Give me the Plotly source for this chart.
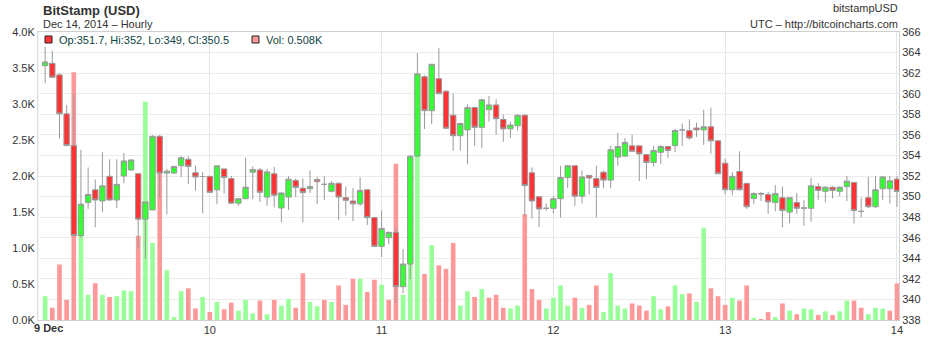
import pandas as pd
import plotly.graph_objects as go

# Hourly BitStamp (USD) candles, 9 Dec 2014 01:00 UTC through 14 Dec 2014 00:00 UTC
open_ = [
    362.73, 362.95, 361.83, 358.04, 354.96, 346.21, 349.42, 350.66, 349.57, 351.97,
    349.67, 352.00, 352.59, 352.22, 347.80, 348.70, 355.86, 352.28, 352.28, 353.00,
    353.62, 352.31, 351.95, 351.97, 350.66, 352.69, 351.75, 349.36, 349.79, 352.37,
    352.59, 349.95, 352.22, 348.89, 349.95, 351.57, 350.82, 350.76, 351.66, 351.19,
    350.51, 351.29, 349.89, 349.57, 349.29, 350.66, 347.96, 345.16, 346.00, 346.52,
    341.24, 343.44, 353.93, 361.65, 358.35, 361.46, 360.25, 357.91, 355.92, 356.48,
    358.66, 356.73, 358.44, 358.91, 357.51, 356.58, 356.89, 357.91, 352.31, 349.98,
    348.86, 348.86, 349.79, 351.85, 353.00, 350.04, 352.06, 351.75, 352.37, 351.60,
    353.84, 353.93, 354.93, 354.93, 354.09, 353.31, 354.30, 354.86, 354.96, 356.48,
    356.42, 356.67, 356.48, 356.79, 355.42, 353.25, 350.66, 352.44, 351.29, 349.82,
    350.29, 350.20, 349.42, 349.89, 348.49, 349.42, 348.86, 348.86, 350.97, 350.51,
    350.91, 350.51, 350.97, 351.38, 348.58, 349.89, 349.01, 350.76, 350.76, 351.70,
]
high = [
    364.57, 364.20, 362.00, 358.90, 360.00, 354.55, 352.84, 351.66, 354.33, 353.62,
    353.62, 354.24, 353.60, 352.30, 349.50, 355.95, 356.00, 352.70, 352.95, 353.93,
    353.93, 353.00, 352.37, 352.00, 353.00, 352.70, 352.00, 349.80, 353.77, 352.93,
    352.78, 352.69, 352.90, 350.40, 352.00, 351.75, 351.75, 352.53, 351.91, 351.97,
    351.50, 351.40, 350.97, 350.82, 351.88, 350.70, 347.96, 348.64, 346.60, 346.93,
    344.90, 354.00, 363.95, 361.80, 362.90, 364.42, 360.30, 360.00, 357.20, 358.97,
    358.70, 359.50, 359.78, 359.47, 357.98, 357.29, 358.00, 358.00, 352.84, 350.00,
    349.33, 350.04, 353.00, 353.00, 353.00, 352.53, 352.10, 353.00, 352.53, 354.93,
    356.17, 355.70, 356.01, 354.93, 354.10, 354.93, 355.00, 354.93, 356.58, 357.10,
    357.51, 357.20, 358.44, 358.66, 355.50, 353.68, 352.37, 354.40, 351.30, 350.41,
    350.45, 350.45, 351.13, 350.97, 349.90, 350.35, 349.64, 351.81, 351.29, 351.00,
    351.00, 351.00, 352.00, 351.40, 349.89, 351.91, 352.00, 352.00, 352.00, 352.00,
]
low = [
    361.00, 361.50, 355.64, 354.90, 346.10, 346.00, 348.80, 347.02, 348.49, 349.60,
    348.89, 351.29, 352.50, 344.90, 343.97, 348.70, 349.89, 348.27, 352.20, 351.90,
    351.22, 350.57, 348.39, 350.40, 349.26, 350.29, 349.30, 349.10, 349.75, 349.73,
    349.48, 349.11, 348.95, 347.49, 348.70, 349.95, 347.49, 350.35, 349.26, 349.64,
    350.40, 347.71, 348.17, 347.61, 349.08, 347.24, 345.10, 344.13, 345.37, 339.68,
    340.61, 341.95, 353.90, 356.57, 357.04, 360.00, 356.60, 354.46, 354.46, 353.15,
    354.93, 354.71, 357.29, 356.01, 355.33, 355.70, 356.42, 348.02, 347.86, 347.02,
    348.64, 348.39, 347.96, 350.82, 349.11, 349.33, 350.20, 347.96, 350.82, 350.82,
    353.00, 353.90, 354.40, 351.50, 351.69, 352.93, 353.15, 353.77, 354.30, 354.93,
    355.50, 355.80, 355.02, 354.15, 352.20, 350.20, 350.13, 350.60, 348.80, 349.26,
    349.57, 348.33, 348.55, 347.02, 347.40, 348.33, 347.18, 347.55, 349.64, 349.42,
    349.82, 350.04, 349.57, 347.40, 347.96, 348.89, 348.90, 349.64, 349.33, 349.00,
]
close = [
    363.08, 361.60, 358.04, 354.96, 346.21, 349.26, 350.20, 349.67, 351.04, 349.67,
    351.19, 353.46, 353.56, 347.80, 349.48, 355.86, 352.28, 352.47, 352.93, 353.77,
    352.93, 351.91, 351.95, 350.41, 352.99, 351.85, 349.36, 349.79, 350.91, 352.62,
    350.41, 352.40, 350.13, 350.35, 351.69, 350.88, 350.38, 350.97, 351.44, 351.19,
    351.29, 349.95, 349.64, 349.29, 350.60, 347.96, 345.16, 346.90, 346.52, 341.24,
    343.44, 353.93, 361.93, 358.35, 362.86, 360.00, 356.64, 355.92, 357.10, 358.66,
    356.73, 359.41, 358.91, 357.57, 356.58, 356.95, 357.91, 351.07, 349.57, 348.80,
    348.86, 349.79, 351.85, 353.00, 350.04, 351.91, 351.81, 350.88, 351.60, 354.55,
    354.86, 355.27, 354.40, 354.15, 353.31, 354.49, 354.86, 354.49, 356.42, 356.48,
    355.70, 356.48, 356.79, 355.42, 352.22, 350.66, 351.97, 350.66, 349.01, 350.29,
    350.25, 349.48, 350.29, 348.64, 349.89, 348.86, 348.90, 351.04, 350.60, 350.91,
    350.60, 350.91, 351.50, 348.64, 348.55, 349.01, 350.66, 351.91, 351.53, 350.50,
]
# Traded volume, thousands of BTC per hour
volume_k = [
    0.33, 0.17, 0.77, 0.28, 3.44, 1.20, 0.35, 0.51, 0.35, 0.32,
    0.33, 0.41, 0.40, 1.17, 3.03, 1.07, 2.30, 0.69, 0.04, 0.40,
    0.44, 0.16, 0.32, 0.11, 0.25, 0.15, 0.24, 0.13, 0.28, 0.09,
    0.27, 0.08, 0.28, 0.20, 0.29, 0.17, 0.65, 0.25, 0.19, 0.28,
    0.25, 0.48, 0.21, 0.57, 0.57, 0.39, 0.56, 0.49, 0.28, 2.17,
    0.35, 2.20, 2.40, 0.64, 1.04, 0.76, 0.71, 1.07, 0.20, 0.40,
    0.32, 0.43, 0.31, 0.35, 0.17, 0.16, 0.20, 1.47, 0.43, 0.28,
    0.16, 0.31, 0.48, 0.20, 0.31, 0.17, 0.21, 0.48, 0.11, 0.65,
    0.20, 0.16, 0.23, 0.20, 0.13, 0.33, 0.15, 0.19, 0.48, 0.36,
    0.37, 0.25, 1.28, 0.44, 0.33, 0.21, 0.31, 0.27, 0.48, 0.03,
    0.01, 0.11, 0.04, 0.23, 0.13, 0.08, 0.16, 0.15, 0.07, 0.12,
    0.07, 0.12, 0.27, 0.27, 0.17, 0.08, 0.17, 0.16, 0.13, 0.508,
]

times = pd.date_range("2014-12-09 01:00", periods=len(close), freq="h")
day_ticks = pd.date_range("2014-12-10", "2014-12-14", freq="D")
day_labels = ["10", "11", "12", "13", "14"]
vol_ticks = [0.0, 0.5, 1.0, 1.5, 2.0, 2.5, 3.0, 3.5, 4.0]
vol_labels = [f"{v:.1f}K" for v in vol_ticks]
price_ticks = list(range(338, 367, 2))

UP_FILL, DOWN_FILL = "#33ff33", "#ff3333"
VOL_UP, VOL_DOWN = "#99ff99", "#ff9999"
EDGE = "#9a9a9a"
TEXT = "#333333"
LEGEND_TEXT = "#0d4444"
FONT = "Liberation Sans, Arial, sans-serif"

# volume bars coloured by close versus previous close
vol_colors = [
    VOL_UP if i == 0 or close[i] >= close[i - 1] else VOL_DOWN
    for i in range(len(close))
]

fig = go.Figure()
fig.add_trace(go.Bar(
    x=times, y=volume_k, marker=dict(color=vol_colors, line=dict(width=0)),
    yaxis="y", hoverinfo="skip",
))
fig.add_trace(go.Candlestick(
    x=times, open=open_, high=high, low=low, close=close, yaxis="y2",
    increasing=dict(fillcolor=UP_FILL, line=dict(color=EDGE, width=1)),
    decreasing=dict(fillcolor=DOWN_FILL, line=dict(color=EDGE, width=1)),
    whiskerwidth=0, hoverinfo="skip",
))

x_start = pd.Timestamp("2014-12-09 00:00")
x_end = pd.Timestamp("2014-12-14 00:17")

fig.update_layout(
    width=940, height=348,
    margin=dict(l=36, r=41, t=32, b=16, pad=0),
    paper_bgcolor="white", plot_bgcolor="white",
    showlegend=False, bargap=0.35, boxgap=0.25, boxgroupgap=0,
    font=dict(family=FONT, size=11, color=TEXT),
    xaxis=dict(
        type="date", range=[x_start, x_end],
        tickvals=day_ticks, ticktext=day_labels, ticks="",
        showgrid=True, gridcolor="#e6e6e6", gridwidth=1,
        showline=True, mirror=True, linecolor="#d0d0d0", linewidth=1,
        zeroline=False, rangeslider=dict(visible=False),
        tickfont=dict(size=11, color=TEXT),
    ),
    yaxis=dict(
        range=[0, 4], tickvals=vol_ticks, ticktext=vol_labels, ticks="",
        showgrid=False, zeroline=False, showline=True, linecolor="#e0e0e0",
        tickfont=dict(size=11, color=TEXT), fixedrange=True,
    ),
    yaxis2=dict(
        range=[338, 366], tickvals=price_ticks, overlaying="y", side="right",
        ticks="", showgrid=True, gridcolor="#ebebeb", gridwidth=1,
        zeroline=False, showline=True, linecolor="#d0d0d0",
        tickfont=dict(size=11, color=TEXT),
    ),
)

# vertical grid line at the first day boundary
fig.add_shape(type="line", xref="x", yref="paper", x0=x_start, x1=x_start,
              y0=0, y1=1, line=dict(color="#e6e6e6", width=1), layer="below")

# header texts
fig.add_annotation(text="<b>BitStamp (USD)</b>", xref="paper", yref="paper",
                   x=0, y=1, xshift=3, yshift=22, xanchor="left", yanchor="middle",
                   showarrow=False, font=dict(size=13, color=TEXT))
fig.add_annotation(text="Dec 14, 2014 – Hourly", xref="paper", yref="paper",
                   x=0, y=1, xshift=3, yshift=8, xanchor="left", yanchor="middle",
                   showarrow=False, font=dict(size=11, color=TEXT))
fig.add_annotation(text="bitstampUSD", xref="paper", yref="paper",
                   x=1, y=1, xshift=1, yshift=24, xanchor="right", yanchor="middle",
                   showarrow=False, font=dict(size=11, color=TEXT))
fig.add_annotation(text="UTC – http://bitcoincharts.com", xref="paper", yref="paper",
                   x=1, y=1, xshift=1, yshift=8, xanchor="right", yanchor="middle",
                   showarrow=False, font=dict(size=11, color=TEXT))

# first day label
fig.add_annotation(text="<b>9 Dec</b>", xref="paper", yref="paper",
                   x=0, y=0, xshift=-6, yshift=-8, xanchor="left", yanchor="middle",
                   showarrow=False, font=dict(size=11, color=TEXT))

# readout of the latest candle
last_o, last_h, last_l, last_c, last_v = open_[-1], high[-1], low[-1], close[-1], volume_k[-1]
candle_fill = UP_FILL if last_c > last_o else DOWN_FILL
fig.add_shape(type="rect", xref="paper", yref="paper",
              xsizemode="pixel", xanchor=0, x0=7, x1=14,
              ysizemode="pixel", yanchor=1, y0=-11, y1=-4,
              fillcolor=candle_fill, line=dict(color="#222222", width=1))
fig.add_annotation(text=f"Op:{last_o:g}, Hi:{last_h:g}, Lo:{last_l:g}, Cl:{last_c:g}",
                   xref="paper", yref="paper", x=0, y=1, xshift=19, yshift=-8,
                   xanchor="left", yanchor="middle", showarrow=False,
                   font=dict(size=11, color=LEGEND_TEXT))
fig.add_shape(type="rect", xref="paper", yref="paper",
              xsizemode="pixel", xanchor=0, x0=214, x1=221,
              ysizemode="pixel", yanchor=1, y0=-11, y1=-4,
              fillcolor=vol_colors[-1], line=dict(color="#222222", width=1))
fig.add_annotation(text=f"Vol: {last_v:.3f}K",
                   xref="paper", yref="paper", x=0, y=1, xshift=226, yshift=-8,
                   xanchor="left", yanchor="middle", showarrow=False,
                   font=dict(size=11, color=LEGEND_TEXT))

fig.write_html("out.html")
